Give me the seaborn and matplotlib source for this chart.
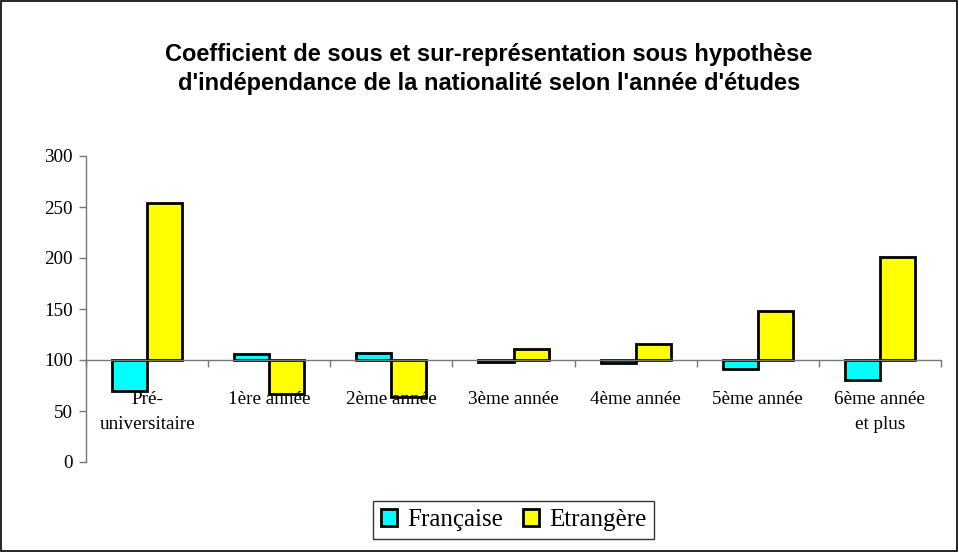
import pandas as pd
import matplotlib.pyplot as plt
import seaborn as sns
from matplotlib.patches import Rectangle, Patch

# données (coefficient, base 100)
annees = ["Pré-\nuniversitaire", "1ère année", "2ème année", "3ème année",
          "4ème année", "5ème année", "6ème année\net plus"]
francaise = [70, 106, 107, 98, 97, 91, 80]
etrangere = [254, 67, 64, 111, 116, 148, 201]
base = 100
couleurs = ["#00FFFF", "#FFFF00"]
series = ["Française", "Etrangère"]
titre = ["Coefficient de sous et sur-représentation sous hypothèse",
         "d'indépendance de la nationalité selon l'année d'études"]

df = pd.DataFrame({
    "annee": annees * 2,
    "nationalite": [series[0]] * len(annees) + [series[1]] * len(annees),
    "valeur": francaise + etrangere,
})
df["ecart"] = df["valeur"] - base

sns.set_style("white")
plt.rcParams["font.family"] = ["Liberation Serif", "DejaVu Serif"]
plt.rcParams["text.color"] = "black"
plt.rcParams["xtick.labelcolor"] = "black"
plt.rcParams["ytick.labelcolor"] = "black"

W, H = 959, 552
fig = plt.figure(figsize=(W / 100, H / 100), dpi=100)
ax = fig.add_axes([86 / W, 1 - 462 / H, (941 - 86) / W, (462 - 156) / H])

sns.barplot(data=df, x="annee", y="ecart", hue="nationalite",
            palette=couleurs, saturation=1, width=0.574, bottom=base,
            edgecolor="black", linewidth=2.0, ax=ax, errorbar=None,
            legend=False)

ax.set_axisbelow(False)
ax.set_xlim(-0.5, len(annees) - 0.5)
ax.set_ylim(0, 300)
ax.set_yticks(range(0, 301, 50))
ax.set_xlabel("")
ax.set_ylabel("")

axis_col = "#777777"
for s in ["top", "right"]:
    ax.spines[s].set_visible(False)
ax.spines["left"].set_color(axis_col)
ax.spines["bottom"].set_color(axis_col)
ax.spines["bottom"].set_position(("data", base))
ax.spines["left"].set_linewidth(1.0)
ax.spines["bottom"].set_linewidth(1.0)

ax.tick_params(axis="y", direction="out", length=5, width=1.0, color=axis_col,
               labelsize=13.8, labelcolor="black", pad=4.5, left=True)
ax.set_xticks([i + 0.5 for i in range(-1, len(annees))], minor=True)
ax.tick_params(axis="x", which="minor", direction="out", length=5, width=1.0,
               color=axis_col, bottom=True)
ax.tick_params(axis="x", which="major", length=0, labelsize=13.8,
               labelcolor="black", pad=22.5)
ax.set_xticklabels(annees, linespacing=1.6)

for ligne, yb in zip(titre, [61, 90]):
    fig.text(489 / W, 1 - yb / H, ligne, ha="center", va="baseline",
             fontsize=17, fontweight="bold", color="black",
             family=["Liberation Sans", "DejaVu Sans"])

handles = [Patch(facecolor=c, edgecolor="black", linewidth=2.0) for c in couleurs]
leg = ax.legend(handles, series, loc="center", bbox_to_anchor=(513.5 / W, 1 - 520 / H),
                bbox_transform=fig.transFigure, ncol=2, frameon=True, fancybox=False,
                edgecolor="black", fontsize=18, handlelength=0.64, handleheight=0.64,
                handletextpad=0.4, columnspacing=0.8, borderpad=0.3,
                borderaxespad=0)
leg.get_frame().set_linewidth(1.0)
for t in leg.get_texts():
    t.set_color("black")

fig.patches.append(Rectangle((0.001, 0.001), 0.997, 0.997, transform=fig.transFigure,
                             fill=False, edgecolor="black", linewidth=1.2))

fig.savefig("out.png", dpi=100)
